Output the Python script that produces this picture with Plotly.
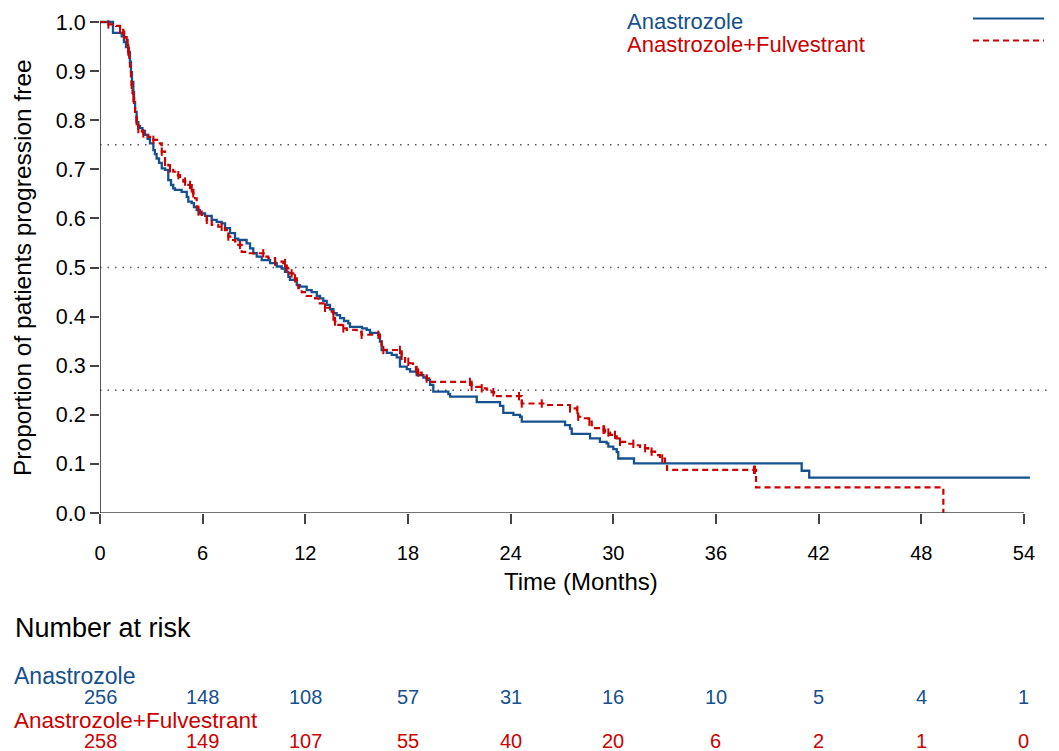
import numpy as np
import plotly.graph_objects as go

# ---------------- data ----------------
months_ticks = [0, 6, 12, 18, 24, 30, 36, 42, 48, 54]
y_ticks = [0.0, 0.1, 0.2, 0.3, 0.4, 0.5, 0.6, 0.7, 0.8, 0.9, 1.0]
ref_levels = [0.25, 0.5, 0.75]

series_names = ["Anastrozole", "Anastrozole+Fulvestrant"]

blue_t = [0, 0.76, 1.27, 1.40, 1.52, 1.65, 1.75, 1.81, 1.87, 1.95,
          1.99, 2.05, 2.14, 2.24, 2.34, 2.48, 2.63, 2.78, 2.92, 3.12,
          3.21, 3.31, 3.45, 3.61, 3.80, 3.99, 4.15, 4.28, 4.38, 4.77,
          5.07, 5.16, 5.36, 5.49, 5.65, 5.84, 6.14, 6.53, 6.82, 7.11,
          7.31, 7.60, 7.89, 8.08, 8.57, 8.77, 8.96, 9.16, 9.45, 9.94,
          10.33, 10.62, 10.81, 11.01, 11.10, 11.50, 11.69, 12.08, 12.37, 12.67,
          12.86, 13.05, 13.25, 13.44, 13.64, 13.83, 14.03, 14.26, 14.51, 14.61,
          15.31, 15.59, 15.78, 16.27, 16.36, 16.46, 16.76, 17.05, 17.34, 17.53,
          17.93, 18.12, 18.51, 18.90, 19.10, 19.29, 19.48, 20.36, 20.46, 22.02,
          23.38, 23.57, 24.16, 24.55, 24.65, 27.18, 27.47, 27.57, 28.64, 29.22,
          29.61, 29.71, 30.00, 30.20, 30.29, 31.21, 41.01, 41.45, 54.35]
blue_s = [1.0, 0.978, 0.971, 0.959, 0.949, 0.939, 0.919, 0.898, 0.878, 0.857,
          0.837, 0.817, 0.796, 0.788, 0.784, 0.778, 0.770, 0.762, 0.753, 0.739,
          0.731, 0.722, 0.713, 0.702, 0.699, 0.678, 0.668, 0.661, 0.658, 0.654,
          0.644, 0.634, 0.631, 0.623, 0.617, 0.610, 0.605, 0.597, 0.593, 0.590,
          0.580, 0.570, 0.559, 0.556, 0.549, 0.539, 0.529, 0.522, 0.515, 0.509,
          0.502, 0.498, 0.491, 0.481, 0.475, 0.464, 0.461, 0.454, 0.450, 0.442,
          0.437, 0.432, 0.424, 0.415, 0.407, 0.403, 0.397, 0.391, 0.386, 0.379,
          0.376, 0.373, 0.367, 0.363, 0.349, 0.332, 0.326, 0.322, 0.317, 0.298,
          0.293, 0.288, 0.281, 0.276, 0.271, 0.261, 0.247, 0.242, 0.237, 0.226,
          0.218, 0.204, 0.200, 0.196, 0.186, 0.179, 0.172, 0.161, 0.152, 0.145,
          0.142, 0.135, 0.130, 0.124, 0.111, 0.101, 0.086, 0.072, 0.072]

red_t = [0, 0.49, 0.94, 1.17, 1.36, 1.46, 1.56, 1.65, 1.71, 1.75,
         1.81, 1.85, 1.90, 1.95, 1.99, 2.05, 2.14, 2.24, 2.44, 2.53,
         2.82, 3.12, 3.41, 3.61, 3.80, 3.99, 4.09, 4.28, 4.48, 4.68,
         4.87, 5.16, 5.36, 5.45, 5.55, 5.65, 5.75, 5.94, 6.24, 6.53,
         6.91, 7.31, 7.50, 7.70, 7.89, 8.08, 8.28, 8.67, 9.64, 9.84,
         10.23, 10.71, 10.91, 11.10, 11.30, 11.50, 11.59, 11.79, 12.08, 12.57,
         12.76, 13.15, 13.54, 13.64, 13.73, 13.93, 14.13, 14.42, 15.00, 15.29,
         16.36, 16.46, 16.56, 17.63, 17.83, 18.12, 18.29, 18.47, 18.60, 18.80,
         19.09, 19.23, 21.72, 22.31, 22.60, 22.89, 23.03, 24.65, 26.01, 27.47,
         27.88, 27.95, 28.25, 28.54, 28.74, 28.93, 29.32, 29.52, 29.81, 30.20,
         30.39, 30.78, 31.27, 31.56, 32.04, 32.44, 32.73, 33.02, 33.14, 38.34,
         49.29]
red_s = [1.0, 0.995, 0.992, 0.984, 0.974, 0.969, 0.957, 0.940, 0.923, 0.909,
         0.889, 0.872, 0.855, 0.845, 0.831, 0.814, 0.798, 0.782, 0.777, 0.773,
         0.766, 0.760, 0.753, 0.736, 0.715, 0.708, 0.702, 0.695, 0.688, 0.682,
         0.675, 0.668, 0.661, 0.651, 0.641, 0.624, 0.614, 0.607, 0.597, 0.587,
         0.583, 0.576, 0.563, 0.556, 0.553, 0.546, 0.532, 0.529, 0.522, 0.519,
         0.512, 0.509, 0.498, 0.488, 0.478, 0.468, 0.458, 0.450, 0.442, 0.437,
         0.427, 0.418, 0.410, 0.400, 0.390, 0.383, 0.376, 0.373, 0.369, 0.363,
         0.354, 0.342, 0.332, 0.320, 0.308, 0.305, 0.297, 0.291, 0.286, 0.281,
         0.274, 0.267, 0.257, 0.254, 0.251, 0.246, 0.238, 0.223, 0.220, 0.213,
         0.210, 0.196, 0.193, 0.186, 0.179, 0.173, 0.170, 0.164, 0.159, 0.152,
         0.145, 0.141, 0.138, 0.132, 0.125, 0.118, 0.111, 0.104, 0.088, 0.052,
         0.0]

red_censor_t = [0.49, 1.17, 1.42, 1.62, 1.65, 1.69, 1.85, 1.95, 2.14, 2.24,
                2.53, 3.12, 3.61, 3.80, 4.09, 4.58, 4.97, 5.26, 5.36, 5.45,
                5.75, 6.24, 7.11, 7.50, 8.18, 9.54, 10.23, 10.81, 10.91, 11.20,
                11.40, 13.15, 13.64, 13.73, 14.22, 15.29, 16.27, 16.56, 17.53, 17.63,
                18.02, 18.51, 18.60, 19.09, 21.62, 21.72, 22.31, 22.99, 24.49, 24.65,
                25.82, 27.47, 27.90, 27.95, 28.60, 29.42, 29.46, 29.71, 30.10, 30.39,
                31.17, 31.86, 32.24, 32.86, 38.22, 38.28]

risk_blue = [256, 148, 108, 57, 31, 16, 10, 5, 4, 1]
risk_red = [258, 149, 107, 55, 40, 20, 6, 2, 1, 0]

# ---------------- styling ----------------
BLUE = "#15508f"
RED = "#cc0000"
FONT = "Liberation Sans, Arial, sans-serif"
OFF = 8  # page body margin
W, H = 1059 - OFF, 751 - OFF
L, R, T, B = 100 - OFF, 0, 12 - OFF, 751 - 513
plot_h = H - T - B
px_per_month = 17.11
px_per_unit = 491.0
x_max = (W - L - R) / px_per_month
y_max = plot_h / px_per_unit


def ppx(p):
    """screen pixel x -> paper x"""
    return (p - OFF - L) / (W - L - R)


def ppy(p):
    """screen pixel y -> paper y"""
    return (H - B - (p - OFF)) / plot_h


def step_value(ts, ss, t):
    i = int(np.searchsorted(np.array(ts), t, side="right")) - 1
    return ss[max(i, 0)]


fig = go.Figure()

fig.add_trace(go.Scatter(x=blue_t, y=blue_s, mode="lines", line_shape="hv",
                         line=dict(color=BLUE, width=2.3), name=series_names[0],
                         showlegend=False))
fig.add_trace(go.Scatter(x=red_t, y=red_s, mode="lines", line_shape="hv",
                         line=dict(color=RED, width=2.2, dash="6px,4px"),
                         name=series_names[1], showlegend=False))
cens_y = [step_value(red_t, red_s, t) for t in red_censor_t]
fig.add_trace(go.Scatter(x=red_censor_t, y=cens_y, mode="markers",
                         marker=dict(symbol="line-ns", size=6,
                                     line=dict(color=RED, width=2)),
                         showlegend=False, hoverinfo="skip"))

shapes = []
for lv in ref_levels:
    shapes.append(dict(type="line", xref="paper", yref="y", x0=0, x1=1, y0=lv, y1=lv,
                       line=dict(color="#555555", width=1.5, dash="1.5px,6px"), layer="below"))
# axis lines
shapes.append(dict(type="line", xref="x", yref="y", x0=0, x1=54, y0=0, y1=0,
                   line=dict(color="#444444", width=1.5)))
shapes.append(dict(type="line", xref="x", yref="y", x0=0, x1=0, y0=0, y1=1.0,
                   line=dict(color="#222222", width=1.5)))
# legend samples
shapes.append(dict(type="line", xref="paper", yref="paper", x0=ppx(973), x1=ppx(1044),
                   y0=ppy(18.5), y1=ppy(18.5), line=dict(color=BLUE, width=2.2)))
shapes.append(dict(type="line", xref="paper", yref="paper", x0=ppx(973), x1=ppx(1044),
                   y0=ppy(40.5), y1=ppy(40.5), line=dict(color=RED, width=2.2, dash="6px,4px")))

ann = []
ann.append(dict(text=series_names[0], xref="paper", yref="paper", x=ppx(626), y=ppy(22),
                xanchor="left", yanchor="middle", showarrow=False, borderpad=0,
                font=dict(family=FONT, size=22, color=BLUE)))
ann.append(dict(text=series_names[1], xref="paper", yref="paper", x=ppx(626), y=ppy(44),
                xanchor="left", yanchor="middle", showarrow=False, borderpad=0,
                font=dict(family=FONT, size=22, color=RED)))
ann.append(dict(text="Time (Months)", xref="paper", yref="paper", x=ppx(581), y=ppy(581),
                xanchor="center", yanchor="middle", showarrow=False,
                font=dict(family=FONT, size=24, color="black")))
ann.append(dict(text="Proportion of patients progression free", xref="paper", yref="paper",
                x=ppx(22), y=ppy(268), xanchor="center", yanchor="middle", textangle=-90,
                showarrow=False, font=dict(family=FONT, size=24.5, color="black")))
ann.append(dict(text="Number at risk", xref="paper", yref="paper", x=ppx(13), y=ppy(628),
                xanchor="left", yanchor="middle", showarrow=False,
                font=dict(family=FONT, size=27, color="black")))
ann.append(dict(text=series_names[0], xref="paper", yref="paper", x=ppx(13), y=ppy(676),
                xanchor="left", yanchor="middle", showarrow=False, borderpad=0,
                font=dict(family=FONT, size=23, color=BLUE)))
ann.append(dict(text=series_names[1], xref="paper", yref="paper", x=ppx(13), y=ppy(720),
                xanchor="left", yanchor="middle", showarrow=False, borderpad=0,
                font=dict(family=FONT, size=22.5, color=RED)))
for m, nb, nr in zip(months_ticks, risk_blue, risk_red):
    ann.append(dict(text=str(nb), xref="x", yref="paper", x=m, y=ppy(697),
                    xanchor="center", yanchor="middle", showarrow=False, borderpad=0,
                    font=dict(family=FONT, size=20, color=BLUE)))
    ann.append(dict(text=str(nr), xref="x", yref="paper", x=m, y=ppy(741),
                    xanchor="center", yanchor="middle", showarrow=False, borderpad=0,
                    font=dict(family=FONT, size=20, color=RED)))

fig.update_layout(
    width=W, height=H,
    margin=dict(l=L, r=R, t=T, b=B, pad=0),
    paper_bgcolor="white", plot_bgcolor="white",
    showlegend=False,
    shapes=shapes, annotations=ann,
    font=dict(family=FONT, size=20, color="black"),
)
fig.update_xaxes(range=[0, x_max], tickvals=months_ticks,
                 ticktext=[str(v) for v in months_ticks],
                 ticks="outside", ticklen=10, tickwidth=1.5, tickcolor="#444444",
                 showgrid=False, zeroline=False, showline=False,
                 tickfont=dict(family=FONT, size=20, color="black"),
                 ticklabelstandoff=12)
fig.update_yaxes(range=[0, y_max], tickvals=y_ticks,
                 ticktext=[f"{v:.1f}" for v in y_ticks],
                 ticks="outside", ticklen=9, tickwidth=1.5, tickcolor="#444444",
                 showgrid=False, zeroline=False, showline=False,
                 tickfont=dict(family=FONT, size=21.5, color="black"))

fig.write_html("out.html")
